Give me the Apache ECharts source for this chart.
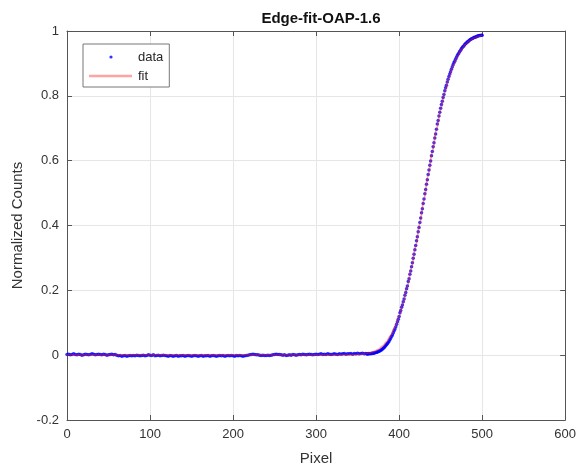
<!DOCTYPE html>
<html>
<head>
<meta charset="utf-8">
<title>Edge-fit-OAP-1.6</title>
<script src="https://cdn.jsdelivr.net/npm/echarts@6/dist/echarts.min.js"></script>
<style>
  html, body { margin: 0; padding: 0; background: #ffffff; }
  #chart { width: 579px; height: 471px; }
</style>
</head>
<body>
<div id="chart"></div>
<script>
// Measured edge profile: flat baseline sampled every 2 pixels from pixel 0
const baselineStart = 0;
const baselineStep = 2;
const baselineCounts = [
  0.002, 0.003, 0.001, 0.002, 0.004, 0.002, 0.001, 0.003, 0.002, 0.000,
  0.001, 0.003, 0.002, 0.001, 0.002, 0.004, 0.003, 0.001, 0.002, 0.003,
  0.002, 0.001, 0.003, 0.002, 0.000, 0.001, 0.002, 0.003, 0.001, 0.002,
  0.000, -0.002, -0.001, -0.003, -0.002, -0.001, -0.003, -0.002, -0.001, -0.002,
  -0.001, -0.002, 0.000, -0.001, -0.002, -0.001, 0.000, -0.002, -0.001, 0.001,
  0.000, -0.001, 0.001, -0.002, -0.001, 0.000, -0.002, -0.001, 0.000, -0.001,
  -0.002, -0.003, -0.001, -0.002, -0.003, -0.002, -0.001, -0.003, -0.002, -0.002,
  -0.001, -0.003, -0.002, -0.001, -0.002, -0.003, -0.002, -0.001, -0.002, -0.003,
  -0.002, -0.001, -0.003, -0.002, -0.002, -0.001, -0.003, -0.002, -0.001, -0.002,
  -0.003, -0.002, -0.001, -0.002, -0.001, -0.003, -0.002, -0.001, -0.002, -0.001,
  -0.002, -0.003, -0.001, -0.002, -0.001, -0.002, -0.003, -0.002, -0.001, 0.000,
  0.001, 0.002, 0.003, 0.002, 0.001, 0.001, 0.000, -0.001, 0.000, -0.001,
  -0.001, 0.000, -0.001, 0.000, 0.001, 0.002, 0.003, 0.002, 0.002, 0.001,
  0.000, 0.001, -0.001, 0.000, 0.001, 0.000, 0.002, 0.001, 0.000, 0.001,
  0.002, 0.001, 0.003, 0.002, 0.001, 0.002, 0.003, 0.002, 0.001, 0.002,
  0.003, 0.002, 0.003, 0.004, 0.002, 0.003, 0.002, 0.004, 0.003, 0.002,
  0.003, 0.004, 0.003, 0.002, 0.004, 0.003, 0.004, 0.005, 0.003, 0.004,
  0.004, 0.005, 0.003, 0.005, 0.004, 0.006, 0.004, 0.005, 0.006, 0.004,
  0.005
];

// Rising edge sampled every pixel from pixel 361 to 500
const edgeStart = 361;
const edgeStep = 1;
const edgeCounts = [
  0.004, 0.003, 0.005, 0.004, 0.005, 0.004, 0.006, 0.005, 0.007, 0.006,
  0.008, 0.008, 0.009, 0.010, 0.011, 0.012, 0.014, 0.015, 0.017, 0.019,
  0.021, 0.024, 0.027, 0.030, 0.033, 0.036, 0.040, 0.044, 0.048, 0.053,
  0.058, 0.063, 0.069, 0.075, 0.081, 0.088, 0.095, 0.103, 0.111, 0.119,
  0.131, 0.138, 0.148, 0.155, 0.165, 0.173, 0.185, 0.193, 0.205, 0.213,
  0.227, 0.236, 0.250, 0.260, 0.273, 0.285, 0.299, 0.311, 0.325, 0.338,
  0.353, 0.365, 0.381, 0.394, 0.409, 0.423, 0.439, 0.452, 0.468, 0.482,
  0.498, 0.511, 0.527, 0.541, 0.557, 0.571, 0.586, 0.599, 0.615, 0.628,
  0.643, 0.655, 0.670, 0.682, 0.697, 0.713, 0.724, 0.738, 0.749, 0.762,
  0.773, 0.783, 0.795, 0.804, 0.816, 0.825, 0.833, 0.843, 0.851, 0.860,
  0.867, 0.874, 0.882, 0.889, 0.896, 0.902, 0.907, 0.913, 0.918, 0.924,
  0.928, 0.932, 0.937, 0.941, 0.945, 0.948, 0.952, 0.954, 0.958, 0.961,
  0.963, 0.966, 0.967, 0.970, 0.972, 0.974, 0.975, 0.977, 0.978, 0.980,
  0.981, 0.981, 0.983, 0.983, 0.985, 0.985, 0.986, 0.986, 0.987, 0.987
];

// Fitted edge-spread curve
const fitPixel = [
  0, 320, 330, 340, 345, 350, 355, 360, 365, 370, 375, 380, 385, 390, 395,
  400, 405, 410, 415, 420, 425, 430, 435, 440, 445, 450, 455, 460, 465, 470,
  475, 480, 485, 490, 495, 500
];
const fitCounts = [
  0.001, 0.001, 0.0012, 0.0013, 0.0016, 0.0021, 0.0031, 0.0047, 0.0073, 0.0116,
  0.0181, 0.0278, 0.0419, 0.0613, 0.0873, 0.1208, 0.1627, 0.2130, 0.2713, 0.3367,
  0.4075, 0.4811, 0.5554, 0.6278, 0.6953, 0.7567, 0.8103, 0.8555, 0.8923, 0.9212,
  0.9430, 0.9591, 0.9704, 0.9781, 0.9832, 0.9864
];

const xTicks = { min: 0, max: 600, interval: 100 };
const yTicks = { min: -0.2, max: 1, interval: 0.2 };

const dataPoints = [];
baselineCounts.forEach((v, i) => dataPoints.push([baselineStart + i * baselineStep, v]));
edgeCounts.forEach((v, i) => dataPoints.push([edgeStart + i * edgeStep, v]));
const fitPoints = fitPixel.map((p, i) => [p, fitCounts[i]]);

const FONT = '"Liberation Sans", Arial, Helvetica, sans-serif';
const AXIS_COLOR = '#555555';
const TEXT_COLOR = '#333333';
const GRID_COLOR = '#e6e6e6';
const FIT_COLOR = 'rgba(255, 30, 30, 0.42)';

function frameAxis(position, ticks, withLabels) {
  return {
    type: 'value',
    position: position,
    min: ticks.min,
    max: ticks.max,
    interval: ticks.interval,
    axisLine: { show: true, onZero: false, lineStyle: { color: AXIS_COLOR, width: 1 } },
    axisTick: { show: true, inside: true, length: 5, lineStyle: { color: AXIS_COLOR } },
    axisLabel: withLabels
      ? { show: true, color: TEXT_COLOR, fontSize: 13, fontFamily: FONT, margin: 8 }
      : { show: false },
    splitLine: withLabels
      ? { show: true, lineStyle: { color: GRID_COLOR, width: 1 } }
      : { show: false }
  };
}

const xBottom = Object.assign(frameAxis('bottom', xTicks, true), {
  name: 'Pixel',
  nameLocation: 'middle',
  nameGap: 31,
  nameTextStyle: { color: TEXT_COLOR, fontSize: 15, fontFamily: FONT }
});
const xTop = frameAxis('top', xTicks, false);
const yLeft = Object.assign(frameAxis('left', yTicks, true), {
  name: 'Normalized Counts',
  nameLocation: 'middle',
  nameGap: 37,
  nameTextStyle: { color: TEXT_COLOR, fontSize: 15, fontFamily: FONT }
});
const yRight = frameAxis('right', yTicks, false);

const chart = echarts.init(document.getElementById('chart'), null, { renderer: 'canvas' });
chart.setOption({
  animation: false,
  backgroundColor: '#ffffff',
  title: {
    text: 'Edge-fit-OAP-1.6',
    left: 316,
    top: 6,
    textAlign: 'center',
    textStyle: { fontSize: 15, fontWeight: 'bold', color: '#111111', fontFamily: FONT }
  },
  grid: { left: 67, right: 13, top: 31, bottom: 49, containLabel: false },
  legend: {
    orient: 'vertical',
    left: 83,
    top: 44,
    padding: [6, 6, 4, 5],
    itemWidth: 45,
    itemHeight: 14,
    itemGap: 5,
    backgroundColor: '#ffffff',
    borderColor: '#777777',
    borderWidth: 1,
    borderRadius: 0,
    textStyle: { color: '#262626', fontSize: 13, fontFamily: FONT },
    data: [
      { name: 'data', icon: 'path://M0,0M45,14M21.4,7a1.6,1.6 0 1 0 3.2,0a1.6,1.6 0 1 0 -3.2,0z' },
      { name: 'fit', icon: 'path://M0,0M45,14M1,5.7h43v2.6h-43z', itemStyle: { color: '#ffa3a3' } }
    ]
  },
  xAxis: [xBottom, xTop],
  yAxis: [yLeft, yRight],
  series: [
    {
      name: 'data',
      type: 'scatter',
      xAxisIndex: 0,
      yAxisIndex: 0,
      symbol: 'circle',
      symbolSize: 3.5,
      itemStyle: { color: '#0000ff' },
      data: dataPoints,
      z: 2
    },
    {
      name: 'fit',
      type: 'line',
      xAxisIndex: 0,
      yAxisIndex: 0,
      showSymbol: false,
      symbol: 'none',
      smooth: 0.35,
      smoothMonotone: 'x',
      lineStyle: { color: FIT_COLOR, width: 1.8 },
      itemStyle: { color: FIT_COLOR },
      data: fitPoints,
      z: 3
    }
  ]
});
</script>
</body>
</html>
